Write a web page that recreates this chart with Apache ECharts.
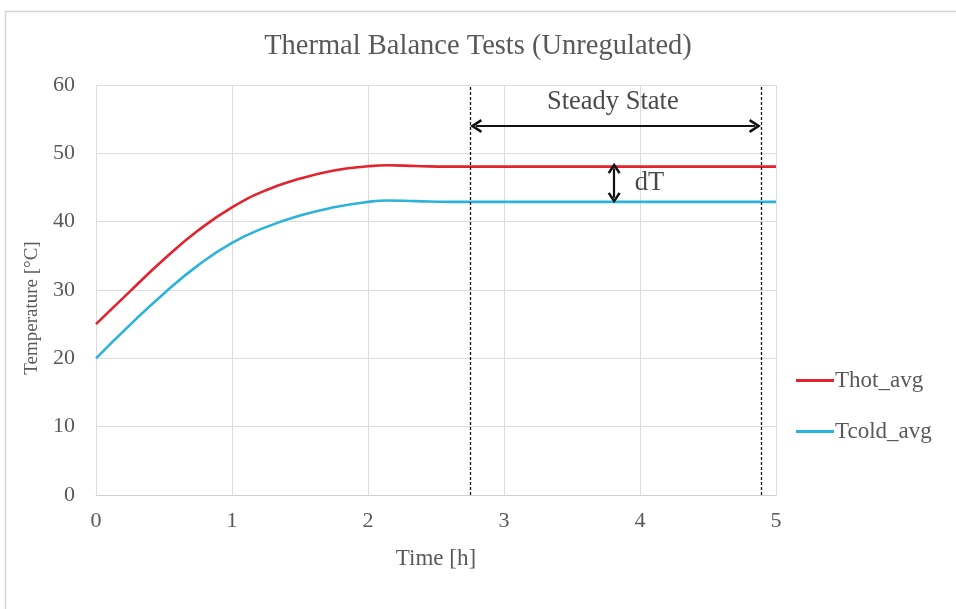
<!DOCTYPE html>
<html>
<head>
<meta charset="utf-8">
<title>Thermal Balance Tests (Unregulated)</title>
<script src="https://cdn.jsdelivr.net/npm/echarts@6/dist/echarts.min.js"></script>
<style>
  html, body { margin: 0; padding: 0; background: #ffffff; }
  #chart { width: 956px; height: 609px; }
</style>
</head>
<body>
<div id="chart"></div>
<script>
// Measured averages (time in hours, temperatures in °C)
const timeH   = [0, 0.25, 0.5, 0.75, 1, 1.25, 1.5, 1.75, 2, 2.15, 2.35, 2.6, 3, 3.5, 4, 4.5, 5];
const thotAvg = [25, 29.8, 34.5, 38.7, 42.1, 44.6, 46.3, 47.5, 48.1, 48.25, 48.15, 48.05, 48.05, 48.05, 48.05, 48.05, 48.05];
const tcoldAvg = [20, 24.9, 29.5, 33.6, 36.9, 39.2, 40.9, 42.1, 42.9, 43.1, 43.0, 42.9, 42.9, 42.9, 42.9, 42.9, 42.9];

const seriesNames = ['Thot_avg', 'Tcold_avg'];
const xTicks = [0, 1, 2, 3, 4, 5];
const yTicks = [0, 10, 20, 30, 40, 50, 60];

// Steady-state window and annotation anchors (data units)
const steadyRange = [2.75, 4.89];
const steadyArrowLevel = 54;
const steadyLabel = { text: 'Steady State', at: [3.8, 57.5] };
const dtArrowTime = 3.81;
const dtArrowSpan = [47.8, 43.5];
const dtLabel = { text: 'dT', at: [4.07, 45.66] };

const serif = '"Liberation Serif", "Times New Roman", serif';
const grey = '#595959';
const chevron = 'path://M0,10 L6,0 L12,10 L10,11.3 L6,4.4 L2,11.3 Z';

const pair = (xs, ys) => xs.map((x, i) => [x, ys[i]]);

const chart = echarts.init(document.getElementById('chart'), null, { renderer: 'canvas' });

chart.setOption({
  animation: false,
  backgroundColor: '#ffffff',
  graphic: [{
    type: 'rect',
    shape: { x: 5.5, y: 11.5, width: 1000, height: 1000 },
    style: { fill: 'none', stroke: '#d4d4d4', lineWidth: 1.5 },
    silent: true
  }],
  title: {
    text: 'Thermal Balance Tests (Unregulated)',
    left: 'center',
    top: 27,
    textStyle: { fontFamily: serif, fontSize: 28.5, fontWeight: 'normal', color: grey }
  },
  grid: { left: 96, right: 180, top: 85, bottom: 114, containLabel: false },
  legend: {
    data: seriesNames,
    orient: 'vertical',
    left: 791,
    top: 364,
    itemWidth: 38,
    itemHeight: 3,
    itemGap: 28,
    icon: 'rect',
    textStyle: { fontFamily: serif, fontSize: 23, color: grey, padding: [0, 0, 0, -4] }
  },
  xAxis: {
    type: 'value',
    min: xTicks[0],
    max: xTicks[xTicks.length - 1],
    interval: 1,
    name: 'Time [h]',
    nameLocation: 'middle',
    nameGap: 52,
    nameTextStyle: { fontFamily: serif, fontSize: 23, color: grey },
    axisLine: { show: true, lineStyle: { color: '#d0d0d0', width: 1 } },
    axisTick: { show: false },
    axisLabel: { margin: 15, fontFamily: serif, fontSize: 22, color: grey },
    splitLine: { show: true, lineStyle: { color: '#dcdcdc', width: 1 } }
  },
  yAxis: {
    type: 'value',
    min: yTicks[0],
    max: yTicks[yTicks.length - 1],
    interval: 10,
    name: 'Temperature [°C]',
    nameLocation: 'middle',
    nameGap: 54,
    nameTextStyle: { fontFamily: serif, fontSize: 19, color: grey, padding: [0, 36, 0, 0] },
    axisLine: { show: false },
    axisTick: { show: false },
    axisLabel: { margin: 21, fontFamily: serif, fontSize: 22, color: grey },
    splitLine: { show: true, lineStyle: { color: '#dcdcdc', width: 1 } }
  },
  series: [
    {
      name: seriesNames[0],
      type: 'line',
      data: pair(timeH, thotAvg),
      smooth: 0.5,
      showSymbol: false,
      color: '#e3222d',
      lineStyle: { width: 2.6, color: '#e3222d' },
      z: 3,
      markLine: {
        silent: true,
        symbol: ['none', 'none'],
        label: { show: false },
        animation: false,
        data: [
          { xAxis: steadyRange[0], lineStyle: { color: '#111111', width: 1.3, type: [3, 2] } },
          { xAxis: steadyRange[1], lineStyle: { color: '#111111', width: 1.3, type: [3, 2] } },
          [
            { coord: [steadyRange[0] + 0.045, steadyArrowLevel], symbol: chevron, symbolSize: [14, 12] },
            { coord: [steadyRange[1] - 0.045, steadyArrowLevel], symbol: chevron, symbolSize: [14, 12],
              lineStyle: { color: '#111111', width: 2.2, type: 'solid' } }
          ],
          [
            { coord: [dtArrowTime, dtArrowSpan[0]], symbol: chevron, symbolSize: [13, 11] },
            { coord: [dtArrowTime, dtArrowSpan[1]], symbol: chevron, symbolSize: [13, 11],
              lineStyle: { color: '#111111', width: 2.2, type: 'solid' } }
          ]
        ]
      }
    },
    {
      name: seriesNames[1],
      type: 'line',
      data: pair(timeH, tcoldAvg),
      smooth: 0.5,
      showSymbol: false,
      color: '#2bb3dc',
      lineStyle: { width: 2.6, color: '#2bb3dc' },
      z: 3
    },
    {
      name: 'labels',
      type: 'scatter',
      silent: true,
      symbolSize: 1,
      itemStyle: { color: 'rgba(0,0,0,0)' },
      data: [
        { name: steadyLabel.text, value: steadyLabel.at },
        { name: dtLabel.text, value: dtLabel.at }
      ],
      label: {
        show: true,
        position: 'inside',
        formatter: p => p.name,
        fontFamily: serif,
        fontSize: 26.5,
        color: '#1a1a1a'
      },
      z: 5
    }
  ]
});
</script>
</body>
</html>
